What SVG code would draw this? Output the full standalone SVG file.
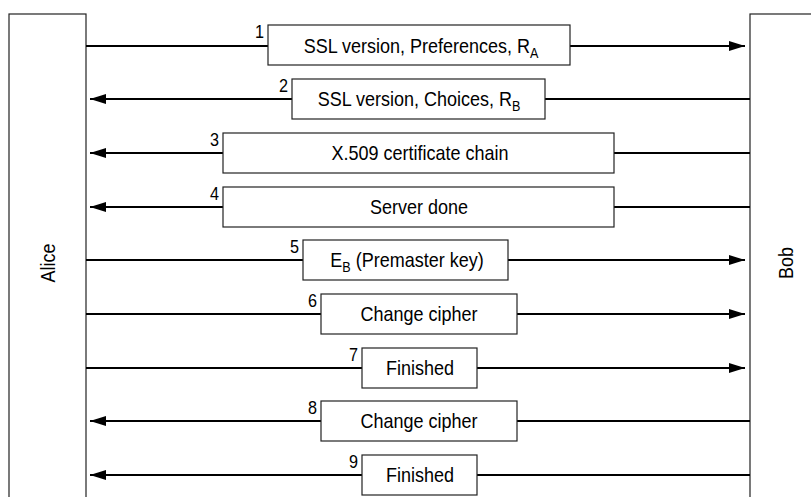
<svg xmlns="http://www.w3.org/2000/svg" width="811" height="497" viewBox="0 0 811 497">
  <style>
    .party { fill: #fff; stroke: #222; stroke-width: 1.2; }
    .msg { fill: #fff; stroke: #222; stroke-width: 1.2; }
    .line { stroke: #000; stroke-width: 2; fill: none; }
    text { font-family: "Liberation Sans", Arial, sans-serif; font-size: 20px; fill: #000; }
    .label { text-anchor: middle; }
    .num { text-anchor: end; font-size: 18px; }
    .sub { font-size: 14px; }
  </style>
  <defs>
    <marker id="head" viewBox="0 0 16 10" refX="16" refY="5" markerWidth="16" markerHeight="10" markerUnits="userSpaceOnUse" orient="auto">
      <path d="M0,0 L16,5 L0,10 Z" fill="#000"/>
    </marker>
  </defs>

  <g id="alice">
    <rect class="party" x="9" y="14" width="77" height="500"/>
    <text class="label" transform="translate(55,263) rotate(-90) scale(0.9,1)">Alice</text>
  </g>
  <g id="bob">
    <rect class="party" x="750" y="14" width="80" height="500"/>
    <text class="label" transform="translate(793,263) rotate(-90) scale(0.9,1)">Bob</text>
  </g>

  <g id="connectors">
    <!-- Alice to Bob -->
    <line class="line" x1="86" y1="46" x2="268" y2="46"/>
    <line class="line" x1="570" y1="46" x2="745" y2="46" marker-end="url(#head)"/>
    <line class="line" x1="86" y1="260" x2="303" y2="260"/>
    <line class="line" x1="508" y1="260" x2="745" y2="260" marker-end="url(#head)"/>
    <line class="line" x1="86" y1="314" x2="321" y2="314"/>
    <line class="line" x1="517" y1="314" x2="745" y2="314" marker-end="url(#head)"/>
    <line class="line" x1="86" y1="368" x2="362" y2="368"/>
    <line class="line" x1="477" y1="368" x2="745" y2="368" marker-end="url(#head)"/>
    <!-- Bob to Alice -->
    <line class="line" x1="750" y1="99" x2="545" y2="99"/>
    <line class="line" x1="292" y1="99" x2="90" y2="99" marker-end="url(#head)"/>
    <line class="line" x1="750" y1="153" x2="614" y2="153"/>
    <line class="line" x1="223" y1="153" x2="90" y2="153" marker-end="url(#head)"/>
    <line class="line" x1="750" y1="207" x2="614" y2="207"/>
    <line class="line" x1="223" y1="207" x2="90" y2="207" marker-end="url(#head)"/>
    <line class="line" x1="750" y1="421" x2="517" y2="421"/>
    <line class="line" x1="321" y1="421" x2="90" y2="421" marker-end="url(#head)"/>
    <line class="line" x1="750" y1="475" x2="477" y2="475"/>
    <line class="line" x1="362" y1="475" x2="90" y2="475" marker-end="url(#head)"/>
  </g>

  <g id="m1">
    <rect class="msg" x="268" y="25" width="302" height="40"/>
    <text class="num" transform="translate(264,38) scale(0.9,1)">1</text>
    <text class="label" transform="translate(421,53) scale(0.9,1)">SSL version, Preferences, R<tspan class="sub" dy="5">A</tspan></text>
  </g>
  <g id="m2">
    <rect class="msg" x="292" y="79" width="253" height="40"/>
    <text class="num" transform="translate(288,92) scale(0.9,1)">2</text>
    <text class="label" transform="translate(419,106) scale(0.9,1)">SSL version, Choices, R<tspan class="sub" dy="5">B</tspan></text>
  </g>
  <g id="m3">
    <rect class="msg" x="223" y="133" width="391" height="40"/>
    <text class="num" transform="translate(219,146) scale(0.9,1)">3</text>
    <text class="label" transform="translate(420,160) scale(0.9,1)">X.509 certificate chain</text>
  </g>
  <g id="m4">
    <rect class="msg" x="223" y="187" width="391" height="40"/>
    <text class="num" transform="translate(219,200) scale(0.9,1)">4</text>
    <text class="label" transform="translate(419,214) scale(0.9,1)">Server done</text>
  </g>
  <g id="m5">
    <rect class="msg" x="303" y="240" width="205" height="40"/>
    <text class="num" transform="translate(299,253) scale(0.9,1)">5</text>
    <text class="label" transform="translate(407,267) scale(0.9,1)">E<tspan class="sub" dy="5">B</tspan><tspan dy="-5"> (Premaster key)</tspan></text>
  </g>
  <g id="m6">
    <rect class="msg" x="321" y="294" width="196" height="40"/>
    <text class="num" transform="translate(317,307) scale(0.9,1)">6</text>
    <text class="label" transform="translate(419,321) scale(0.9,1)">Change cipher</text>
  </g>
  <g id="m7">
    <rect class="msg" x="362" y="348" width="115" height="40"/>
    <text class="num" transform="translate(358,361) scale(0.9,1)">7</text>
    <text class="label" transform="translate(420,375) scale(0.9,1)">Finished</text>
  </g>
  <g id="m8">
    <rect class="msg" x="321" y="401" width="196" height="40"/>
    <text class="num" transform="translate(317,414) scale(0.9,1)">8</text>
    <text class="label" transform="translate(419,428) scale(0.9,1)">Change cipher</text>
  </g>
  <g id="m9">
    <rect class="msg" x="362" y="455" width="115" height="40"/>
    <text class="num" transform="translate(358,468) scale(0.9,1)">9</text>
    <text class="label" transform="translate(420,482) scale(0.9,1)">Finished</text>
  </g>
</svg>
